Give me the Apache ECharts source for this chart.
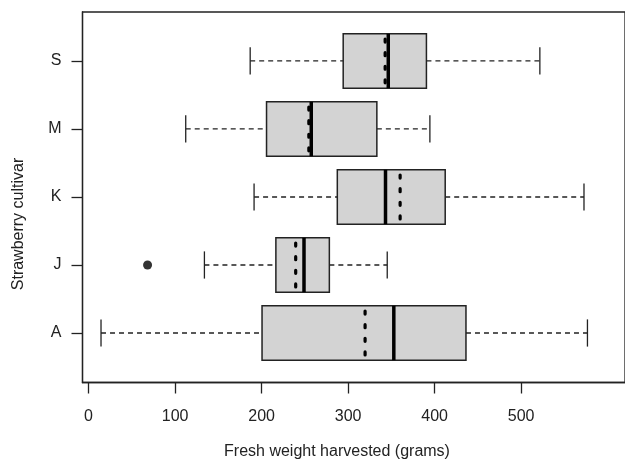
<!DOCTYPE html>
<html>
<head>
<meta charset="utf-8">
<script src="https://cdn.jsdelivr.net/npm/echarts@6/dist/echarts.min.js"></script>
<style>
html,body{margin:0;padding:0;background:#fff;}
#chart{width:625px;height:465px;}
</style>
</head>
<body>
<div id="chart"></div>
<script>
// Data (grams)
const categories = ['A', 'J', 'K', 'M', 'S'];
const whiskerLow  = [14.4, 133.9, 191.3, 112.3, 186.8];
const q1          = [200.5, 216.5, 287.5, 205.7, 294.3];
const median      = [352.8, 249.0, 343.2, 257.4, 346.4];
const q3          = [436.2, 278.3, 412.2, 333.2, 390.5];
const whiskerHigh = [576.6, 345.2, 572.6, 394.5, 521.6];
const means       = [319.6, 239.4, 360.1, 254.6, 342.8];
const outlierCats = ['J'];
const outlierVals = [68.2];
const xTicks = [0, 100, 200, 300, 400, 500];

const boxData = categories.map((c, i) => [i + 1, whiskerLow[i], q1[i], median[i], q3[i], whiskerHigh[i], means[i]]);
const outlierData = outlierCats.map((c, i) => [outlierVals[i], categories.indexOf(c) + 1]);

const ink = '#222';
const font = '"Liberation Sans", Arial, sans-serif';

const chart = echarts.init(document.getElementById('chart'), null, {renderer: 'canvas'});

function renderBox(params, api) {
  const y = api.value(0);
  const low = api.coord([api.value(1), y]);
  const b1 = api.coord([api.value(2), y]);
  const med = api.coord([api.value(3), y]);
  const b3 = api.coord([api.value(4), y]);
  const high = api.coord([api.value(5), y]);
  const mn = api.coord([api.value(6), y]);
  const h = api.size([0, 0.8])[1];
  const s = api.size([0, 0.4])[1];
  const cy = low[1];
  const top = cy - h / 2, bot = cy + h / 2;
  const wStyle = {stroke: ink, lineWidth: 1.3, lineDash: [5, 4]};
  const sStyle = {stroke: ink, lineWidth: 1.3};
  const gap = h / 4;
  return {
    type: 'group',
    children: [
      {type: 'line', shape: {x1: low[0], y1: cy, x2: b1[0], y2: cy}, style: wStyle},
      {type: 'line', shape: {x1: b3[0], y1: cy, x2: high[0], y2: cy}, style: wStyle},
      {type: 'line', shape: {x1: low[0], y1: cy - s / 2, x2: low[0], y2: cy + s / 2}, style: sStyle},
      {type: 'line', shape: {x1: high[0], y1: cy - s / 2, x2: high[0], y2: cy + s / 2}, style: sStyle},
      {type: 'rect', shape: {x: b1[0], y: top, width: b3[0] - b1[0], height: h},
        style: {fill: '#d3d3d3', stroke: ink, lineWidth: 1.5}},
      {type: 'line', shape: {x1: med[0], y1: top, x2: med[0], y2: bot},
        style: {stroke: '#000', lineWidth: 3.5}},
      {type: 'line', shape: {x1: mn[0], y1: top + gap / 2 - 1.5, x2: mn[0], y2: bot},
        style: {stroke: '#000', lineWidth: 3.2, lineCap: 'round', lineDash: [3, gap - 3]}}
    ]
  };
}

chart.setOption({
  backgroundColor: '#fff',
  animation: false,
  grid: {left: 82.5, top: 12, width: 564.3, height: 370.5, show: true,
    borderColor: ink, borderWidth: 1.3, backgroundColor: 'transparent', containLabel: false},
  xAxis: {
    type: 'value', min: -7, max: 620,
    axisLine: {show: true, onZero: false, lineStyle: {color: ink, width: 1.3}},
    axisTick: {show: true, inside: false, length: 11, customValues: xTicks, lineStyle: {color: ink, width: 1.3}},
    axisLabel: {show: true, customValues: xTicks, margin: 26, color: ink, fontSize: 16, fontFamily: font},
    splitLine: {show: false}
  },
  yAxis: {
    type: 'value', min: 0.272, max: 5.72,
    axisLine: {show: true, onZero: false, lineStyle: {color: ink, width: 1.3}},
    axisTick: {show: true, inside: false, length: 11, customValues: [1, 2, 3, 4, 5], lineStyle: {color: ink, width: 1.3}},
    axisLabel: {show: true, customValues: [1, 2, 3, 4, 5], margin: 21, color: ink, fontSize: 16, fontFamily: font,
      formatter: v => categories[Math.round(v) - 1]},
    splitLine: {show: false}
  },
  graphic: [
    {type: 'text', x: 337, y: 452, style: {text: 'Fresh weight harvested (grams)', fill: ink, font: '16px ' + font,
      align: 'center', verticalAlign: 'middle'}},
    {type: 'text', x: 19, y: 224, rotation: Math.PI / 2, style: {text: 'Strawberry cultivar', fill: ink, font: '16px ' + font,
      align: 'center', verticalAlign: 'middle'}}
  ],
  series: [
    {type: 'custom', renderItem: renderBox, data: boxData, encode: {x: [1, 2, 3, 4, 5, 6], y: 0}, z: 2},
    {type: 'scatter', data: outlierData, symbol: 'circle', symbolSize: 9, itemStyle: {color: '#000'}, z: 3}
  ]
});
</script>
</body>
</html>
